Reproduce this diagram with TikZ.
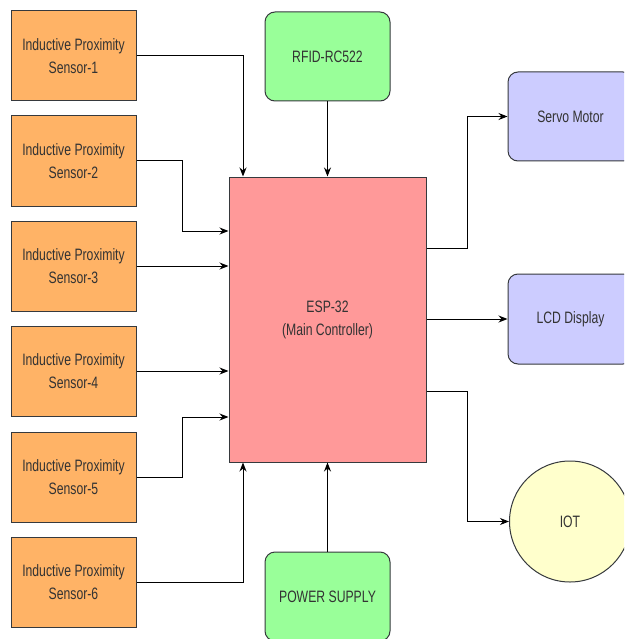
\documentclass[tikz,border=0pt]{standalone}
\usepackage{fontspec}
\newfontfamily\labelfont[FakeStretch=0.74]{Liberation Sans}
\usetikzlibrary{arrows.meta}
\definecolor{sensorfill}{HTML}{FFB366}
\definecolor{espfill}{HTML}{FF9999}
\definecolor{greenfill}{HTML}{99FF99}
\definecolor{purplefill}{HTML}{CCCCFF}
\definecolor{yellowfill}{HTML}{FFFFCC}
\definecolor{edgecol}{HTML}{36393D}
\definecolor{textcol}{HTML}{333333}
\tikzset{
  every node/.style={font=\labelfont\fontsize{16.5}{23}\selectfont, text=textcol, align=center},
  sensorbox/.style={draw=edgecol, line width=1pt, fill=sensorfill, minimum width=125pt, minimum height=90pt, inner sep=0pt},
  espbox/.style={draw=edgecol, line width=1pt, fill=espfill, minimum width=197pt, minimum height=285pt, inner sep=0pt},
  roundbox/.style={draw=edgecol, line width=1pt, rounded corners=10pt, minimum width=125pt, minimum height=89pt, inner sep=0pt},
  iotcircle/.style={draw=edgecol, line width=1pt, fill=yellowfill, circle, minimum size=121pt, inner sep=0pt},
  conn/.style={draw=black, line width=1pt, -{Stealth[length=9pt,width=7pt]}}
}
\begin{document}
\begin{tikzpicture}[x=1pt, y=-1pt]
\useasboundingbox (0,0) rectangle (624,639);
\clip (0,0) rectangle (624,639);
\fill[white] (0,0) rectangle (624,639);

\node[sensorbox] (s1) at (73.5,56) {Inductive Proximity\\Sensor-1};
\node[sensorbox] (s2) at (73.5,161) {Inductive Proximity\\Sensor-2};
\node[sensorbox] (s3) at (73.5,266) {Inductive Proximity\\Sensor-3};
\node[sensorbox] (s4) at (73.5,371) {Inductive Proximity\\Sensor-4};
\node[sensorbox] (s5) at (73.5,477) {Inductive Proximity\\Sensor-5};
\node[sensorbox] (s6) at (73.5,582) {Inductive Proximity\\Sensor-6};

\node[espbox] (esp) at (327.5,319.5) {ESP-32\\(Main Controller)};

\node[roundbox, fill=greenfill] (rfid) at (327.5,56.5) {RFID-RC522};
\node[roundbox, fill=greenfill] (pwr) at (327.5,596.5) {POWER SUPPLY};

\node[roundbox, fill=purplefill] (servo) at (570.5,116.5) {Servo Motor};
\node[roundbox, fill=purplefill, minimum height=90pt] (lcd) at (570.5,319) {LCD Display};
\node[iotcircle] (iot) at (570,521.5) {IOT};

% connectors
\draw[conn] (s1.east) -| (esp.north -| 243,0);
\draw[conn] (rfid.south) -- (esp.north);
\draw[conn] (s2.east) -- (182,161) |- (esp.west |- 0,231);
\draw[conn] (s3.east) -- (esp.west |- s3.east);
\draw[conn] (s4.east) -- (esp.west |- s4.east);
\draw[conn] (s5.east) -- (182,477) |- (esp.west |- 0,417);
\draw[conn] (s6.east) -| (esp.south -| 243,0);
\draw[conn] (pwr.north) -- (esp.south);
\draw[conn] (esp.east |- 0,248) -- (467,248) |- (servo.west);
\draw[conn] (esp.east |- lcd.west) -- (lcd.west);
\draw[conn] (esp.east |- 0,391) -- (467,391) |- (iot.west);
\end{tikzpicture}
\end{document}
